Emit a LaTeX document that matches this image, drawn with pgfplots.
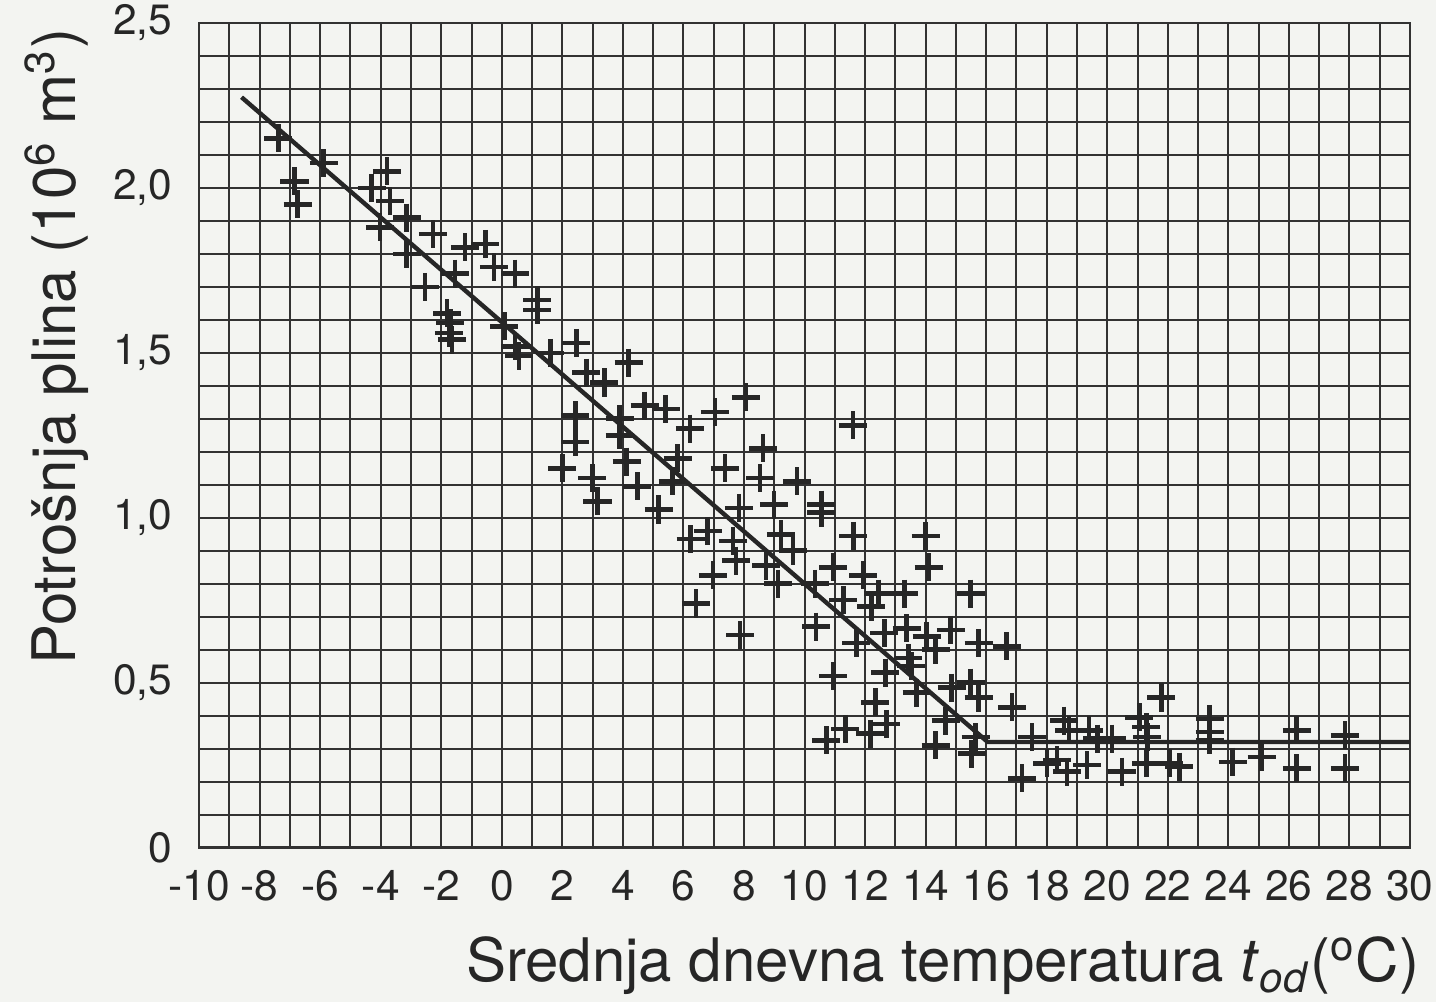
\documentclass[border=0pt]{standalone}
\usepackage{fontspec}
\setmainfont{TeX Gyre Heros}
\usepackage{pgfplots}
\pgfplotsset{compat=1.18}
\definecolor{bg}{RGB}{243,244,241}
\definecolor{ink}{RGB}{38,38,38}
\definecolor{gridc}{RGB}{50,50,50}
\pagecolor{bg}
\begin{document}
\begin{tikzpicture}
\begin{axis}[
  name=ax,
  scale only axis,
  width=302.5pt, height=206pt,
  xmin=-10, xmax=30, ymin=0, ymax=2.5,
  xtick={-10,-8,...,30},
  xticklabels={-10,-8,-6,-4,-2,0,2,4,6,8,10,12,14,16,18,20,22,24,26,28,30},
  ytick={0,0.5,1,1.5,2,2.5},
  yticklabels={0,{0,5},{1,0},{1,5},{2,0},{2,5}},
  minor x tick num=1,
  minor y tick num=4,
  grid=both,
  major grid style={gridc, line width=0.5pt},
  minor grid style={gridc, line width=0.5pt},
  axis line style={gridc, line width=0.55pt},
  major tick length=0pt, minor tick length=0pt,
  tick label style={font=\fontsize{10.6}{12.5}\selectfont, text=ink, inner sep=0pt},
  xticklabel style={anchor=north, yshift=-5.5pt},
  yticklabel style={anchor=east, xshift=-6.5pt},
  xlabel={Srednja dnevna temperatura \textit{t}\textsubscript{\textit{od}}(\textsuperscript{o}C)},
  ylabel={Potrošnja plina (10\textsuperscript{6} m\textsuperscript{3})},
  label style={font=\fontsize{15}{18}\selectfont, text=ink, inner sep=0pt},
  xlabel style={at={(axis description cs:1,0)}, anchor=north east, xshift=2.5pt, yshift=-22pt},
  ylabel style={at={(axis description cs:-0.0905,0.994)}, anchor=south east},
  clip=false,
]
\addplot[only marks, mark=+, mark size=3.5pt, mark options={line width=1.15pt, draw=ink}] coordinates {
(-7.38,2.15) (-5.89,2.075) (-6.85,2.02) (-6.75,1.95) (-3.8,2.05) (-4.3,2.0)
(-3.7,1.96) (-4.03,1.88) (-3.14,1.91) (-2.28,1.86) (-3.14,1.80) (-1.22,1.82)
(-0.55,1.83) (-0.26,1.76) (-1.55,1.74) (0.44,1.74) (-2.54,1.70) (-1.81,1.62)
(-1.75,1.56) (-1.70,1.59) (-1.65,1.54) (1.17,1.66) (1.17,1.63) (0.08,1.58)
(0.44,1.52) (0.57,1.49) (1.6,1.50) (2.46,1.53) (2.79,1.44) (3.39,1.41)
(4.19,1.47) (2.43,1.31) (3.89,1.30) (4.72,1.34) (5.41,1.33) (6.21,1.27)
(7.04,1.32) (8.06,1.365) (2.43,1.23) (3.89,1.25) (2.0,1.15) (4.12,1.17)
(5.81,1.18) (2.99,1.12) (3.16,1.05) (4.48,1.095) (5.64,1.11) (5.18,1.025)
(7.37,1.15) (8.63,1.21) (8.53,1.12) (9.75,1.11) (7.83,1.03) (8.99,1.04)
(6.8,0.96) (10.55,1.04) (10.55,1.015) (6.24,0.935) (7.63,0.93) (9.22,0.95)
(9.62,0.90) (7.73,0.87) (8.73,0.855) (6.97,0.825) (9.12,0.80) (10.35,0.80)
(6.41,0.74) (7.87,0.645) (10.38,0.67) (11.61,0.945) (14.0,0.945) (14.1,0.85)
(10.95,0.85) (11.94,0.825) (12.44,0.77) (13.3,0.77) (11.28,0.75) (12.21,0.73)
(15.49,0.77) (11.71,0.62) (12.64,0.65) (13.37,0.665) (14.03,0.64) (14.83,0.66)
(15.75,0.62) (16.68,0.61) (10.95,0.52) (12.67,0.53) (13.43,0.575) (13.53,0.55)
(14.33,0.60) (13.7,0.47) (14.86,0.485) (15.49,0.50) (15.75,0.455) (12.34,0.44)
(16.85,0.425) (12.7,0.375) (14.66,0.385) (11.35,0.36) (10.72,0.325) (12.17,0.345)
(15.65,0.335) (14.33,0.31) (15.52,0.285) (17.51,0.335) (17.18,0.21) (18.57,0.385)
(18.74,0.355) (18.01,0.255) (18.34,0.265) (18.67,0.23) (19.4,0.355) (19.67,0.33)
(19.33,0.25) (20.16,0.33) (20.49,0.23) (21.06,0.395) (21.29,0.365) (21.32,0.335)
(21.79,0.455) (21.29,0.255) (22.05,0.255) (22.38,0.245) (23.38,0.39) (23.38,0.35)
(23.38,0.325) (24.14,0.26) (25.1,0.275) (26.26,0.355) (26.26,0.24) (27.85,0.34)
(27.85,0.24) (11.6,1.28)
};
\addplot[no marks, draw=ink, line width=1.1pt] coordinates {(-8.6,2.275) (16.05,0.32) (30,0.32)};
\end{axis}
\pgfresetboundingbox
\useasboundingbox ([xshift=-49.75pt,yshift=-38.5pt]ax.south west) rectangle ([xshift=6.5pt,yshift=5.75pt]ax.north east);
\end{tikzpicture}
\end{document}
